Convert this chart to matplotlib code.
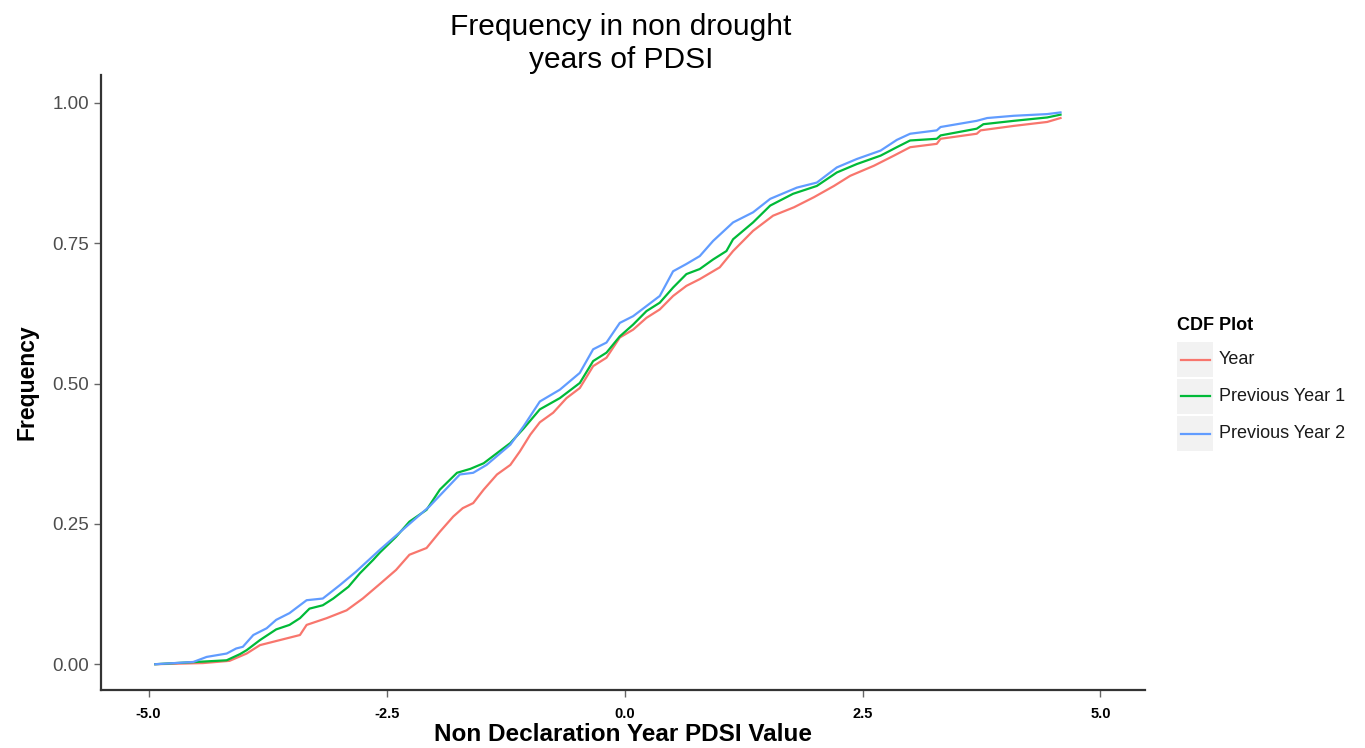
import matplotlib
matplotlib.use("Agg")
import matplotlib.pyplot as plt
from matplotlib.patches import Rectangle
from matplotlib.lines import Line2D

plt.rcParams['font.family'] = ['Liberation Sans', 'DejaVu Sans']

# CDF curves (PDSI value, cumulative frequency)
year_x = [-4.93, -4.43, -4.15, -3.97, -3.83, -3.62, -3.41, -3.34, -3.13, -2.92, -2.75, -2.57,
          -2.40, -2.26, -2.08, -1.94, -1.80, -1.70, -1.59, -1.48, -1.34, -1.20, -1.10, -0.99,
          -0.89, -0.75, -0.61, -0.47, -0.33, -0.19, -0.05, 0.09, 0.23, 0.37, 0.51, 0.65,
          0.79, 0.93, 1.00, 1.14, 1.35, 1.56, 1.78, 1.99, 2.20, 2.37, 2.62, 2.83, 3.00,
          3.28, 3.32, 3.70, 3.74, 4.09, 4.44, 4.58]
year_y = [0.000, 0.002, 0.006, 0.019, 0.034, 0.043, 0.052, 0.070, 0.082, 0.096, 0.117, 0.143,
          0.168, 0.195, 0.207, 0.236, 0.263, 0.278, 0.287, 0.311, 0.338, 0.355, 0.379, 0.409,
          0.431, 0.448, 0.474, 0.492, 0.531, 0.546, 0.582, 0.596, 0.617, 0.632, 0.656, 0.674,
          0.686, 0.700, 0.707, 0.736, 0.772, 0.799, 0.814, 0.832, 0.852, 0.870, 0.888, 0.906,
          0.921, 0.927, 0.936, 0.945, 0.951, 0.959, 0.966, 0.973]

prev1_x = [-4.93, -4.18, -4.04, -3.97, -3.83, -3.66, -3.52, -3.41, -3.31, -3.17, -3.06, -2.90,
           -2.78, -2.64, -2.57, -2.40, -2.26, -2.08, -1.94, -1.76, -1.62, -1.48, -1.34, -1.20,
           -1.06, -0.89, -0.68, -0.47, -0.33, -0.19, -0.05, 0.09, 0.23, 0.37, 0.51, 0.65,
           0.79, 0.93, 1.07, 1.14, 1.35, 1.53, 1.77, 2.02, 2.23, 2.44, 2.69, 2.86, 3.00,
           3.28, 3.32, 3.70, 3.77, 4.09, 4.44, 4.58]
prev1_y = [0.000, 0.007, 0.018, 0.025, 0.043, 0.062, 0.070, 0.082, 0.099, 0.105, 0.117, 0.138,
           0.162, 0.186, 0.199, 0.227, 0.254, 0.275, 0.311, 0.341, 0.348, 0.358, 0.376, 0.394,
           0.420, 0.454, 0.474, 0.501, 0.540, 0.555, 0.584, 0.605, 0.629, 0.644, 0.671, 0.695,
           0.704, 0.721, 0.736, 0.757, 0.787, 0.817, 0.838, 0.852, 0.876, 0.891, 0.906, 0.921,
           0.933, 0.936, 0.942, 0.954, 0.962, 0.968, 0.974, 0.979]

prev2_x = [-4.93, -4.53, -4.39, -4.18, -4.08, -4.01, -3.90, -3.76, -3.66, -3.52, -3.34, -3.17,
           -2.99, -2.82, -2.57, -2.05, -1.73, -1.59, -1.45, -1.20, -1.06, -0.89, -0.68, -0.47,
           -0.33, -0.19, -0.05, 0.09, 0.23, 0.37, 0.51, 0.65, 0.79, 0.93, 1.14, 1.35, 1.53,
           1.81, 2.02, 2.23, 2.44, 2.69, 2.86, 3.00, 3.28, 3.32, 3.70, 3.81, 4.09, 4.44, 4.58]
prev2_y = [0.000, 0.004, 0.013, 0.019, 0.028, 0.031, 0.052, 0.064, 0.079, 0.091, 0.114, 0.117,
           0.141, 0.165, 0.204, 0.281, 0.338, 0.341, 0.355, 0.391, 0.424, 0.468, 0.489, 0.519,
           0.561, 0.573, 0.608, 0.620, 0.638, 0.656, 0.700, 0.713, 0.727, 0.754, 0.787, 0.805,
           0.829, 0.849, 0.858, 0.885, 0.900, 0.915, 0.934, 0.945, 0.951, 0.957, 0.968, 0.973,
           0.977, 0.980, 0.983]

series_names = ['Year', 'Previous Year 1', 'Previous Year 2']
colors = ['#F8766D', '#00BA38', '#619CFF']

x_ticks = [-5.0, -2.5, 0.0, 2.5, 5.0]
x_tick_labels = ['-5.0', '-2.5', '0.0', '2.5', '5.0']
y_ticks = [0.0, 0.25, 0.5, 0.75, 1.0]
y_tick_labels = ['0.00', '0.25', '0.50', '0.75', '1.00']

fig = plt.figure(figsize=(13.65, 7.48), dpi=100)
ax = fig.add_axes([0.074, 0.0775, 0.765, 0.8225])

for xs, ys, c in zip([year_x, prev1_x, prev2_x], [year_y, prev1_y, prev2_y], colors):
    ax.plot(xs, ys, color=c, linewidth=1.6)

ax.set_xlim(-5.5, 5.47)
ax.set_ylim(-0.046, 1.05)

ax.set_xticks(x_ticks)
ax.set_xticklabels(x_tick_labels, fontsize=10.5, fontweight='bold')
ax.set_yticks(y_ticks)
ax.set_yticklabels(y_tick_labels, fontsize=13.5, color='#4D4D4D')
ax.tick_params(axis='both', length=5, width=1, color='#666666', direction='out')
ax.tick_params(axis='x', pad=7)

for side in ['top', 'right']:
    ax.spines[side].set_visible(False)
for side in ['left', 'bottom']:
    ax.spines[side].set_color('#333333')
    ax.spines[side].set_linewidth(1.6)

ax.set_xlabel('Non Declaration Year PDSI Value', fontsize=17.5, fontweight='bold', labelpad=2)
ax.set_ylabel('Frequency', fontsize=16.5, fontweight='bold', labelpad=10)

fig.text(0.455, 0.983, 'Frequency in non drought\nyears of PDSI', ha='center', va='top',
         fontsize=21.5, linespacing=1.25)

# legend drawn by hand to get the grey key boxes
W, H = 1365.0, 748.0
fig.text(1177 / W, 1 - 325 / H, 'CDF Plot', fontsize=13, fontweight='bold', va='center')
for i, (name, c) in enumerate(zip(series_names, colors)):
    top = 342 + i * 37
    fig.add_artist(Rectangle((1177 / W, 1 - (top + 35) / H), 36 / W, 35 / H,
                             transform=fig.transFigure, facecolor='#F2F2F2', edgecolor='none'))
    yc = 1 - (top + 17.5) / H
    fig.add_artist(Line2D([1181 / W, 1210 / W], [yc, yc], transform=fig.transFigure,
                          color=c, linewidth=1.6))
    fig.text(1219 / W, yc, name, fontsize=13, va='center', color='#1a1a1a')

fig.savefig('out.png', dpi=100)
